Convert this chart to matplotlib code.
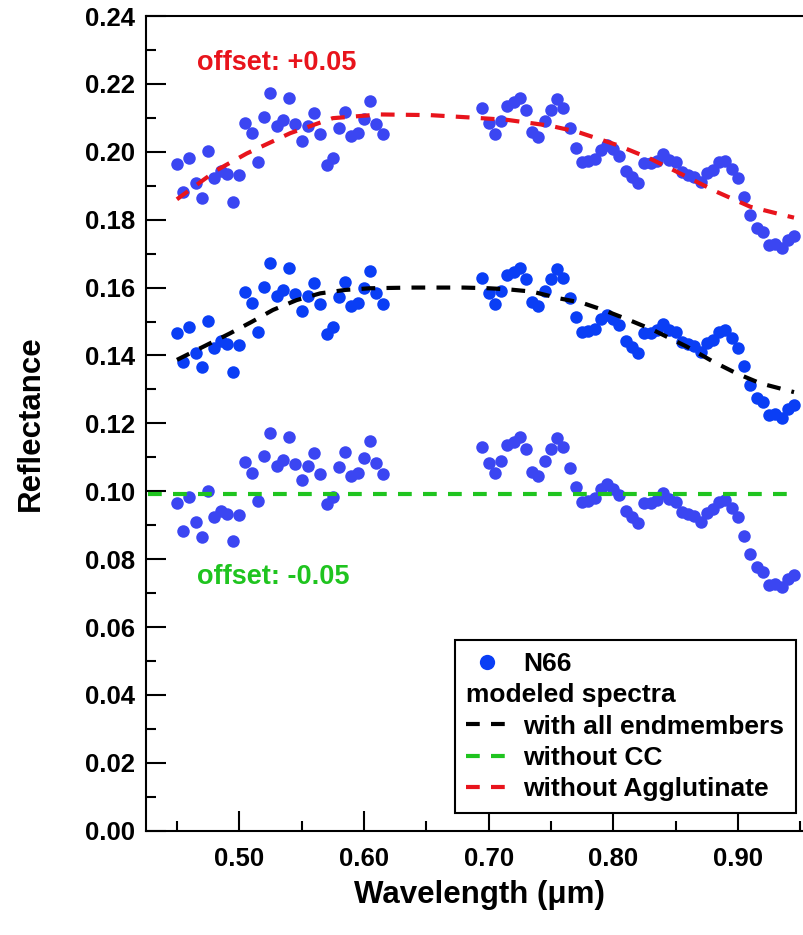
import matplotlib
matplotlib.use("Agg")
import matplotlib.pyplot as plt
from matplotlib.lines import Line2D
from matplotlib.ticker import MultipleLocator, FormatStrFormatter

plt.rcParams['font.family'] = ['Liberation Sans', 'DejaVu Sans']
plt.rcParams['font.weight'] = 'bold'

# N66 measured reflectance (unshifted)
wl_a = [0.450, 0.455, 0.460, 0.465, 0.470, 0.475, 0.480, 0.485, 0.490, 0.495,
        0.500, 0.505, 0.510, 0.515, 0.520, 0.525, 0.530, 0.535, 0.540, 0.545,
        0.550, 0.555, 0.560, 0.565, 0.570, 0.575, 0.580, 0.585, 0.590, 0.595,
        0.600, 0.605, 0.610, 0.615]
refl_a = [0.1465, 0.1382, 0.1483, 0.1408, 0.1365, 0.1501, 0.1423, 0.1443, 0.1434, 0.1352,
          0.1431, 0.1586, 0.1555, 0.1470, 0.1603, 0.1673, 0.1575, 0.1593, 0.1659, 0.1581,
          0.1532, 0.1575, 0.1614, 0.1551, 0.1462, 0.1483, 0.1571, 0.1617, 0.1546, 0.1554,
          0.1598, 0.1649, 0.1583, 0.1552]
wl_b = [0.695, 0.700, 0.705, 0.710, 0.715, 0.720, 0.725, 0.730, 0.735, 0.740,
        0.745, 0.750, 0.755, 0.760, 0.765, 0.770, 0.775, 0.780, 0.785, 0.790,
        0.795, 0.800, 0.805, 0.810, 0.815, 0.820, 0.825, 0.830, 0.835, 0.840,
        0.845, 0.850, 0.855, 0.860, 0.865, 0.870, 0.875, 0.880, 0.885, 0.890,
        0.895, 0.900, 0.905, 0.910, 0.915, 0.920, 0.925, 0.930, 0.935, 0.940,
        0.945]
refl_b = [0.1629, 0.1584, 0.1553, 0.1590, 0.1636, 0.1646, 0.1659, 0.1624, 0.1558, 0.1545,
          0.1590, 0.1624, 0.1656, 0.1629, 0.1569, 0.1512, 0.1469, 0.1472, 0.1479, 0.1506,
          0.1520, 0.1508, 0.1489, 0.1443, 0.1425, 0.1407, 0.1466, 0.1466, 0.1474, 0.1494,
          0.1476, 0.1469, 0.1440, 0.1433, 0.1427, 0.1410, 0.1437, 0.1447, 0.1469, 0.1474,
          0.1450, 0.1423, 0.1368, 0.1314, 0.1276, 0.1263, 0.1224, 0.1227, 0.1217, 0.1241,
          0.1253]

offsets = [0.05, 0.0, -0.05]

# modeled spectra
model_all_x = [0.450, 0.474, 0.4925, 0.510, 0.527, 0.546, 0.565, 0.585, 0.605, 0.640,
               0.680, 0.700, 0.715, 0.735, 0.757, 0.775, 0.792, 0.813, 0.832, 0.859,
               0.880, 0.899, 0.918, 0.945]
model_all_y = [0.1387, 0.1431, 0.1465, 0.1499, 0.1534, 0.1563, 0.1583, 0.1593, 0.1598, 0.1600,
               0.1600, 0.1598, 0.1595, 0.1588, 0.1568, 0.1555, 0.1534, 0.1504, 0.1475, 0.1426,
               0.1382, 0.1347, 0.1318, 0.1292]
model_noagg_x = [0.450, 0.482, 0.506, 0.541, 0.575, 0.613, 0.653, 0.690, 0.715, 0.749,
                 0.771, 0.803, 0.829, 0.856, 0.883, 0.910, 0.936, 0.945]
model_noagg_y = [0.1860, 0.1946, 0.1995, 0.2055, 0.2099, 0.2110, 0.2108, 0.2100, 0.2094, 0.2077,
                 0.2059, 0.2020, 0.1981, 0.1932, 0.1882, 0.1838, 0.1814, 0.1806]
model_nocc_x = [0.427, 0.945]
model_nocc_y = [0.0993, 0.0993]

yticks = [0.00, 0.02, 0.04, 0.06, 0.08, 0.10, 0.12, 0.14, 0.16, 0.18, 0.20, 0.22, 0.24]
xticks = [0.50, 0.60, 0.70, 0.80, 0.90]

W, H = 804, 935
fig = plt.figure(figsize=(W / 100, H / 100), dpi=100)
ax = fig.add_axes([146 / W, (H - 830.7) / H, (812.7 - 146) / W, (830.7 - 16) / H])

main_blue = '#0a3ef5'
off_blue = '#3b46f2'
dash = (3.3, 2.7)

for off in offsets:
    col = main_blue if off == 0 else off_blue
    lab = 'N66' if off == 0 else None
    ax.plot(wl_a + wl_b, [v + off for v in refl_a + refl_b], 'o', color=col,
            markersize=9, markeredgewidth=0, label=lab, zorder=2)

l_all, = ax.plot(model_all_x, model_all_y, color='black', lw=3, dashes=dash, zorder=3,
                 label='with all endmembers')
l_cc, = ax.plot(model_nocc_x, model_nocc_y, color='#1fc41f', lw=3, dashes=dash, zorder=3,
                label='without CC')
l_agg, = ax.plot(model_noagg_x, model_noagg_y, color='#e8141c', lw=3, dashes=dash, zorder=3,
                 label='without Agglutinate')

ax.text(0.4658, 0.2263, 'offset: +0.05', color='#e8141c', fontsize=19.5, fontweight='bold',
        va='center', ha='left')
ax.text(0.4658, 0.0747, 'offset: -0.05', color='#1fc41f', fontsize=19.5, fontweight='bold',
        va='center', ha='left')

ax.set_xlim(0.4252, 0.96)
ax.set_ylim(0.0, 0.24)
ax.set_xticks(xticks)
ax.set_yticks(yticks)
ax.xaxis.set_major_formatter(FormatStrFormatter('%.2f'))
ax.yaxis.set_major_formatter(FormatStrFormatter('%.2f'))
ax.xaxis.set_minor_locator(MultipleLocator(0.05))
ax.yaxis.set_minor_locator(MultipleLocator(0.01))
ax.tick_params(which='both', direction='in', width=1.5, top=False, right=False,
               labelsize=18.5)
ax.tick_params(axis='x', which='both', pad=12)
ax.tick_params(axis='y', which='both', pad=8)
ax.tick_params(which='major', length=14.4)
ax.tick_params(which='minor', length=7.2)
for lbl in ax.get_xticklabels() + ax.get_yticklabels():
    lbl.set_fontweight('bold')
for s in ['left', 'bottom', 'top']:
    ax.spines[s].set_linewidth(1.5)
ax.spines['right'].set_visible(False)

ax.set_xlabel('Wavelength (\u03bcm)', fontsize=22.5, fontweight='bold', labelpad=6)
ax.set_ylabel('Reflectance', fontsize=22.5, fontweight='bold', labelpad=28)

h_n66 = Line2D([], [], marker='o', color=main_blue, ls='none', markersize=11,
               markeredgewidth=0)
h_blank = Line2D([], [], ls='none')
leg = ax.legend([h_n66, h_blank, l_all, l_cc, l_agg],
                ['N66', 'modeled spectra', 'with all endmembers', 'without CC',
                 'without Agglutinate'],
                loc='upper right', bbox_to_anchor=(796 / W, (H - 640) / H),
                bbox_transform=fig.transFigure, borderaxespad=0, fontsize=19,
                handlelength=1.6, handletextpad=0.55, borderpad=0.45, labelspacing=0.28,
                fancybox=False, framealpha=1, edgecolor='black')
leg.get_frame().set_linewidth(1.5)
for t in leg.get_texts():
    t.set_fontweight('bold')

# put "modeled spectra" flush left (no handle)
try:
    for col in leg._legend_handle_box.get_children():
        for item in col.get_children():
            ch = item.get_children()
            if len(ch) == 2 and hasattr(ch[1], 'get_text') and ch[1].get_text() == 'modeled spectra':
                item._children = [ch[1]]
except Exception:
    pass

fig.savefig('out.png', dpi=100)
